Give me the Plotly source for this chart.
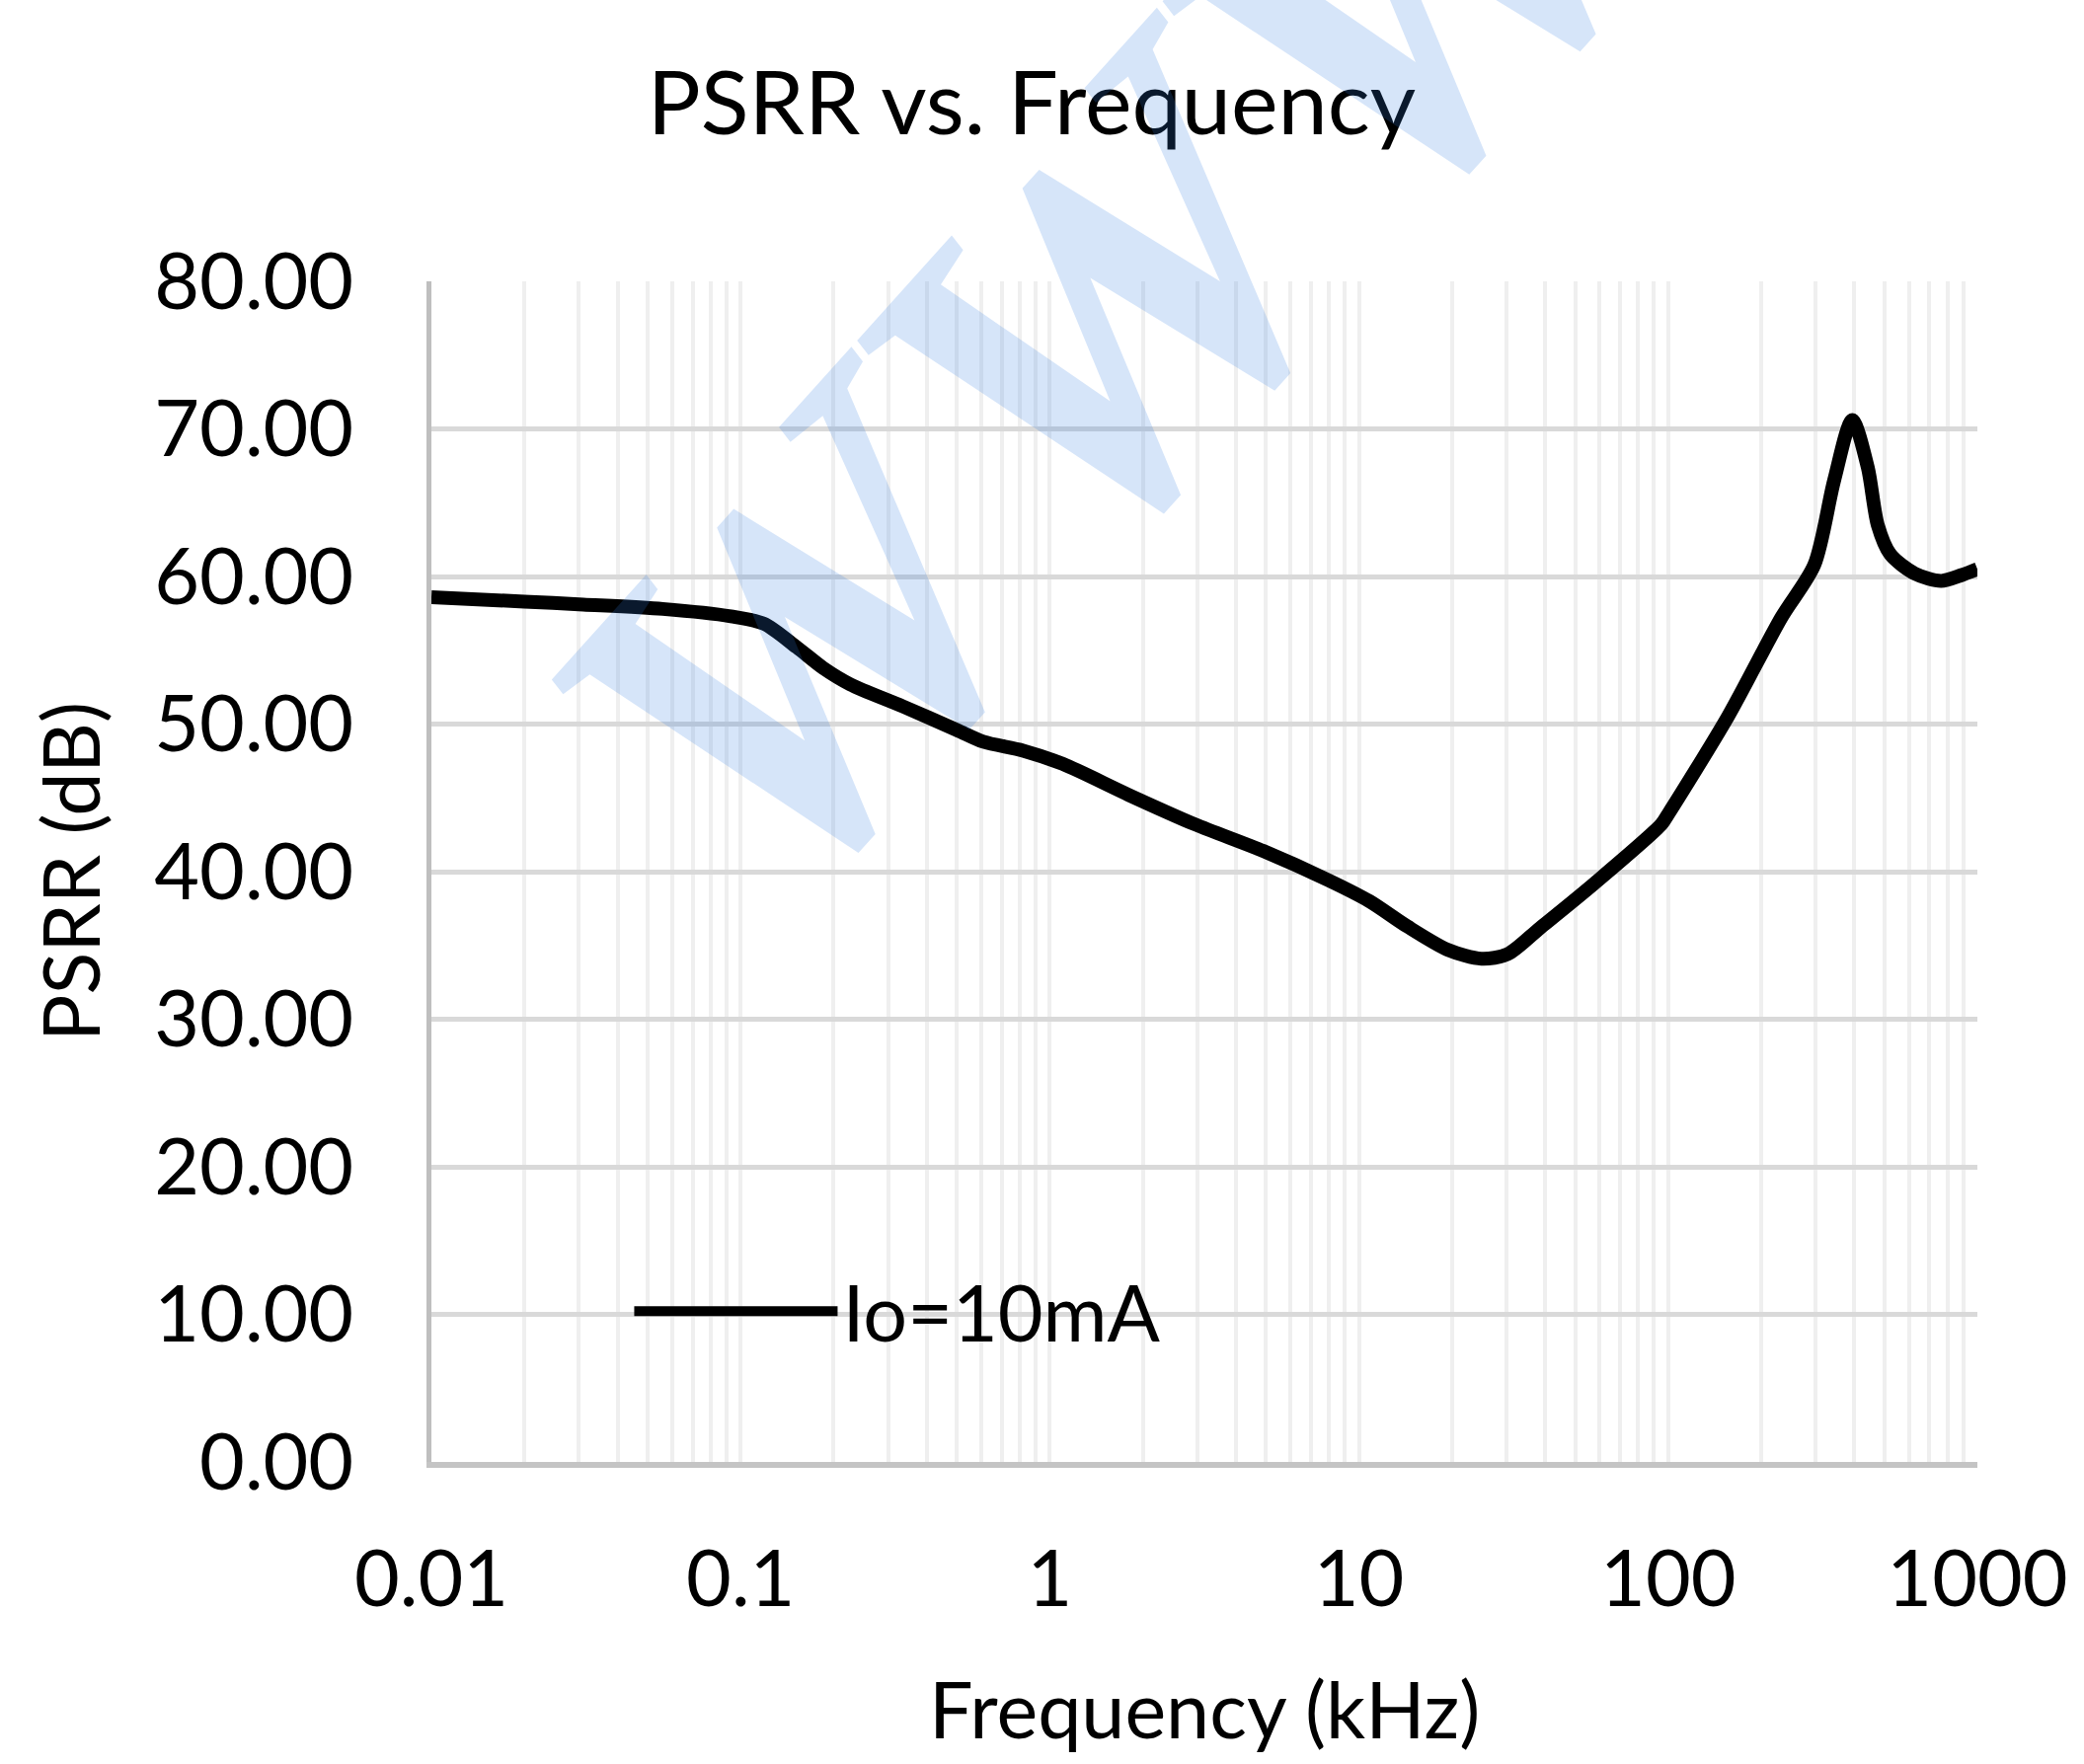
import plotly.graph_objects as go

# ---- data ----
freq_khz = [0.01, 0.02, 0.031, 0.056, 0.093, 0.119, 0.152, 0.185, 0.226, 0.335,
            0.50, 0.61, 0.82, 1.1, 1.8, 2.95, 4.9, 8.0, 10.8, 14.3, 19.4, 24.9,
            30.2, 38.6, 57.7, 95, 100, 156, 232, 297, 344, 394, 442, 476, 523,
            627, 763, 891, 1000]
psrr_db = [58.6, 58.3, 58.1, 57.8, 57.3, 56.8, 55.2, 53.8, 52.7, 51.2,
           49.6, 48.8, 48.2, 47.3, 45.2, 43.2, 41.4, 39.4, 38.0, 36.3, 34.7, 34.1,
           34.4, 36.2, 39.2, 43.2, 43.9, 50.5, 57.2, 60.8, 66.5, 70.6, 67.4, 63.5, 61.5,
           60.2, 59.7, 60.1, 60.5]
series_name = "Io=10mA"

x_major_vals = [0.01, 0.1, 1, 10, 100, 1000]
x_major_text = ["0.01", "0.1", "1", "10", "100", "1000"]
y_tick_vals = [0, 10, 20, 30, 40, 50, 60, 70, 80]
y_tick_text = ["0.00", "10.00", "20.00", "30.00", "40.00", "50.00", "60.00", "70.00", "80.00"]

# grid positions for the log axis (1..9 of each decade)
grid_vals, grid_text = [], []
for i, dec in enumerate(x_major_vals[:-1]):
    for k in range(1, 10):
        grid_vals.append(round(dec * k, 6))
        grid_text.append(x_major_text[i] if k == 1 else "")
grid_vals.append(x_major_vals[-1])
grid_text.append(x_major_text[-1])

FONT = "Lato, 'Open Sans', sans-serif"

fig = go.Figure()
fig.add_trace(go.Scatter(
    x=freq_khz, y=psrr_db, mode="lines", name=series_name,
    line=dict(color="#000000", width=14, shape="spline", smoothing=0.8),
))

fig.update_layout(
    width=2111, height=1787,
    paper_bgcolor="white", plot_bgcolor="white",
    margin=dict(l=437, r=108, t=285, b=306),
    font=dict(family=FONT, size=79, color="#000000"),
    title=dict(text="PSRR vs. Frequency", x=0.495, xanchor="center",
               y=1 - 104 / 1787, yanchor="middle", xref="container", yref="container",
               font=dict(family=FONT, size=90, color="#000000")),
    showlegend=True,
    legend=dict(x=0.128, xanchor="left", y=0.1275, yanchor="middle",
                bgcolor="rgba(0,0,0,0)", borderwidth=0, itemwidth=206,
                font=dict(family=FONT, size=79, color="#000000")),
)

fig.update_xaxes(
    type="log", range=[-2, 3],
    tickmode="array", tickvals=grid_vals, ticktext=grid_text,
    showgrid=True, gridcolor="#efefef", gridwidth=4,
    showline=True, linecolor="#c4c4c4", linewidth=6,
    ticks="", ticklabelstandoff=45,
    tickfont=dict(family=FONT, size=79, color="#000000"),
    zeroline=False,
)
fig.update_yaxes(
    range=[0, 80], tickmode="array", tickvals=y_tick_vals, ticktext=y_tick_text,
    showgrid=True, gridcolor="#d9d9d9", gridwidth=5,
    showline=True, linecolor="#bfbfbf", linewidth=5,
    ticks="", ticklabelstandoff=58,
    tickfont=dict(family=FONT, size=79, color="#000000"),
    zeroline=False,
)

# legend background (covers the gridlines behind the legend)
fig.add_shape(type="rect", xref="paper", yref="paper",
              x0=0.0562, x1=0.5504, y0=0.056, y1=0.182,
              fillcolor="white", line=dict(width=0), layer="between")

# axis titles
fig.add_annotation(text="Frequency (kHz)", xref="paper", yref="paper",
                   x=0.5, y=-(1730 - 1481) / 1196, xanchor="center", yanchor="middle",
                   showarrow=False, font=dict(family=FONT, size=79, color="#000000"))
fig.add_annotation(text="PSRR (dB)", xref="paper", yref="paper",
                   x=-(437 - 70) / 1566, y=0.5, xanchor="center", yanchor="middle",
                   textangle=-90, showarrow=False,
                   font=dict(family=FONT, size=79, color="#000000"))

# faint watermark
fig.add_annotation(text="WWW", xref="paper", yref="paper",
                   x=(1130 - 437) / 1566, y=(1481 - 300) / 1196,
                   xanchor="center", yanchor="middle", textangle=-48, showarrow=False,
                   font=dict(family="Liberation Serif", size=520, style="italic",
                             weight="bold", color="rgba(50,125,225,0.2)"))

fig.write_html("out.html")
